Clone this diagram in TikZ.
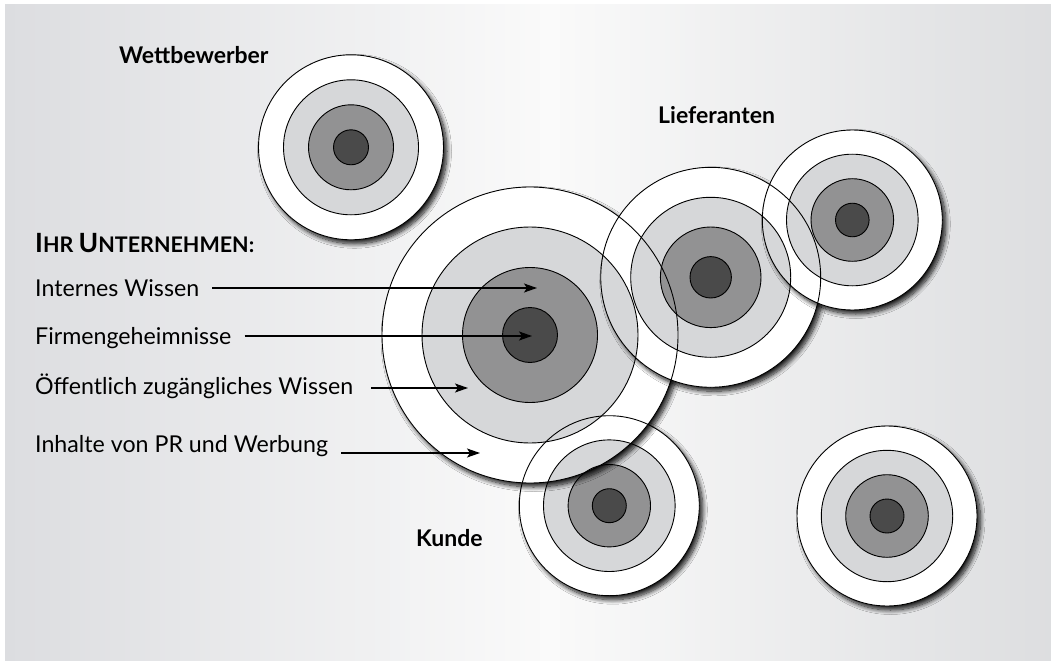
\documentclass[tikz,border=0pt]{standalone}
\usepackage{fontspec}
\setmainfont{Lato}
\usetikzlibrary{shadows.blur,arrows.meta,calc}
\definecolor{bgside}{RGB}{220,221,224}
\definecolor{bgmid}{RGB}{250,250,250}
\definecolor{bgright}{RGB}{221,222,224}
\definecolor{ringlight}{RGB}{214,215,217}
\definecolor{ringmid}{RGB}{146,146,147}
\definecolor{ringdark}{RGB}{74,74,74}
\newcommand\tgtbase[4]{%
  \node[whitedisk,minimum size=2*#4] (#1) at (#2,#3) {};}
\newcommand\tgtrings[7]{%
  \fill[ringlight,even odd rule] (#2,#3) circle[radius=#5] circle[radius=#6];
  \fill[ringmid,even odd rule] (#2,#3) circle[radius=#6] circle[radius=#7];
  \fill[ringdark] (#2,#3) circle[radius=#7];
  \node[ringline,minimum size=2*#4] (#1-o) at (#2,#3) {};
  \node[ringline,minimum size=2*#5] (#1-l) at (#2,#3) {};
  \node[ringline,minimum size=2*#6] (#1-m) at (#2,#3) {};
  \node[ringline,minimum size=2*#7] (#1-d) at (#2,#3) {};}
\begin{document}
\begin{tikzpicture}[x=1pt,y=-1pt,
  whitedisk/.style={circle,inner sep=0pt,outer sep=0pt,fill=white,
    blur shadow={shadow xshift=3.5pt,shadow yshift=-4pt,shadow blur radius=4.5pt,
      shadow blur steps=10,shadow opacity=90}},
  ringline/.style={circle,inner sep=0pt,outer sep=0pt,draw=black,line width=0.9pt},
  lab/.style={anchor=base west,inner sep=0pt,font=\fontsize{23.2}{27}\selectfont},
  title/.style={anchor=base west,inner sep=0pt,font=\fontsize{23}{27}\bfseries\selectfont},
  arr/.style={line width=1.3pt,-{Stealth[length=13pt,width=9pt,inset=3pt]}}]
\useasboundingbox (0,0) rectangle (1051,663);
\fill[white] (0,0) rectangle (1051,663);
% background gradient made of thin strips
\foreach \i in {0,...,209}{
  \pgfmathsetmacro\xa{5+\i*5}
  \pgfmathsetmacro\xm{\xa+2.5}
  \pgfmathsetmacro\xb{min(\xa+5.6,1051)}
  \ifdim\xm pt<550pt
    \pgfmathsetmacro\pp{(\xm-5)/545*100}
    \colorlet{stripc}{bgmid!\pp!bgside}
  \else
    \pgfmathsetmacro\pp{(\xm-550)/501*100}
    \colorlet{stripc}{bgright!\pp!bgmid}
  \fi
  \fill[stripc] (\xa,4) rectangle (\xb,661);
}
% base white disks with shadows
\tgtbase{wett}{351}{147.3}{92.5pt}
\tgtbase{kunde}{609.3}{505.7}{90pt}
\tgtbase{main}{530}{335}{148pt}
\tgtbase{lief1}{710.7}{277.3}{110pt}
\tgtbase{lief2}{852.3}{220}{90pt}
\tgtbase{other}{887}{516}{90pt}
% rings, multiplied
\begin{scope}[blend mode=multiply]
\tgtrings{wett}{351}{147.3}{92.5pt}{67.5pt}{42.5pt}{17.5pt}
\tgtrings{kunde}{609.3}{505.7}{90pt}{65.8pt}{41.2pt}{17pt}
\tgtrings{main}{530}{335}{148pt}{108pt}{67.5pt}{27.5pt}
\tgtrings{lief1}{710.7}{277.3}{110pt}{80pt}{50.3pt}{20.7pt}
\tgtrings{lief2}{852.3}{220}{90pt}{65.8pt}{41.3pt}{16.8pt}
\tgtrings{other}{887}{516}{90pt}{65.7pt}{41.3pt}{17pt}
\end{scope}
% titles
\node[title] (twett) at (119,63.3) {Wettbewerber};
\node[title] (tlief) at (658,124) {Lieferanten};
\node[title] (tkunde) at (416,546.7) {Kunde};
\node[anchor=base west,inner sep=0pt,font=\bfseries] (tihr) at (35,252.3)
  {\fontsize{26.5}{30}\selectfont I\fontsize{21.5}{30}\selectfont HR
   \fontsize{26.5}{30}\selectfont U\fontsize{21.5}{30}\selectfont NTERNEHMEN:};
% labels
\node[lab] (l1) at (35,296) {Internes Wissen};
\node[lab] (l2) at (35,344) {Firmengeheimnisse};
\node[lab] (l3) at (35,394) {Öffentlich zugängliches Wissen};
\node[lab] (l4) at (35,452) {Inhalte von PR und Werbung};
\coordinate (t1) at (537,288);
\coordinate (t2) at (532,336);
\coordinate (t3) at (468,388);
\coordinate (t4) at (480,453);
\draw[arr] ($(l1.east |- t1)+(13,0)$) -- (t1);
\draw[arr] ($(l2.east |- t2)+(13,0)$) -- (t2);
\draw[arr] ($(l3.east |- t3)+(18,0)$) -- (t3);
\draw[arr] ($(l4.east |- t4)+(13,0)$) -- (t4);
\end{tikzpicture}
\end{document}
